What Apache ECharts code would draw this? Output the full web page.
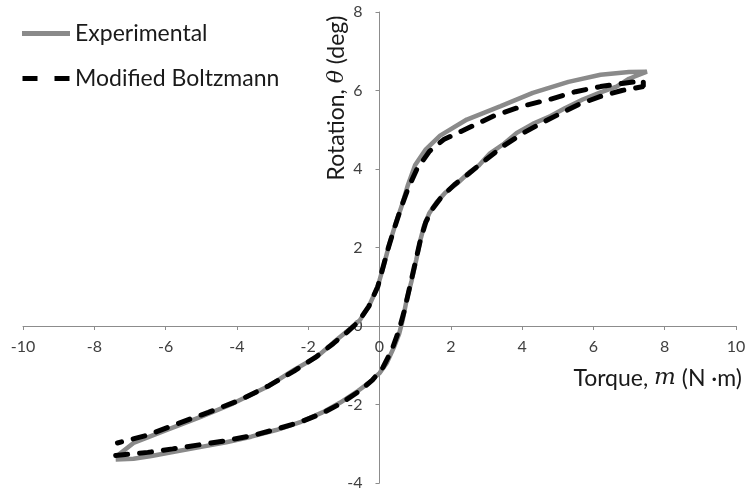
<!DOCTYPE html>
<html lang="en">
<head>
    <meta charset="UTF-8">
    <title>Rotation vs torque</title>
    <script type="text/javascript" src="https://cdn.jsdelivr.net/npm/echarts@6/dist/echarts.min.js"></script>
    <style>
        html, body { margin: 0; padding: 0; background: #fff; }
    </style>
</head>
<body>
    <div id="chart" style="width:748px;height:492px;"></div>
</body>
<script type="text/javascript">
    var chart = echarts.init(document.getElementById('chart'));

    var seriesNames = ['Experimental', 'Modified Boltzmann'];
    var xTicks = [-10, 10, 2];
    var yTicks = [-4, 8, 2];

    // measured loop: loading branch, then unloading branch
    var experimental = [
        [-7.4, -3.4], [-6.9, -3.38], [-6.4, -3.31], [-5.8, -3.21], [-5.0, -3.08], [-4.3, -2.96],
        [-3.6, -2.82], [-2.9, -2.65], [-2.2, -2.44], [-1.6, -2.2], [-1.1, -1.95], [-0.6, -1.65],
        [-0.3, -1.45], [0.0, -1.2], [0.2, -0.95], [0.4, -0.55], [0.55, -0.2], [0.65, 0.15],
        [0.76, 0.66], [0.9, 1.15], [1.03, 1.68], [1.15, 2.2], [1.25, 2.55], [1.4, 2.88],
        [1.6, 3.15], [1.85, 3.4], [2.2, 3.65], [2.5, 3.9], [2.8, 4.1], [3.1, 4.4], [3.5, 4.65],
        [3.85, 4.92], [4.3, 5.15], [4.8, 5.35], [5.2, 5.55], [5.7, 5.77], [6.2, 5.95], [6.65, 6.1],
        [7.0, 6.3], [7.5, 6.48],
        [7.5, 6.52], [7.0, 6.47], [6.2, 6.4], [5.3, 6.22], [4.3, 5.94], [3.4, 5.6], [2.45, 5.26],
        [1.7, 4.85], [1.3, 4.5], [1.0, 4.1], [0.8, 3.6], [0.62, 3.05], [0.45, 2.6], [0.28, 2.1],
        [0.12, 1.55], [-0.05, 1.0], [-0.3, 0.5], [-0.55, 0.15], [-0.8, -0.05], [-1.2, -0.35],
        [-1.75, -0.78], [-2.4, -1.12], [-3.15, -1.55], [-4.1, -1.97], [-5.05, -2.33], [-6.0, -2.66],
        [-6.9, -2.98], [-7.35, -3.3]
    ];

    // model fit: loading branch, then unloading branch
    var boltzmann = [
        [-7.4, -3.3], [-6.5, -3.22], [-5.8, -3.13], [-5.0, -3.02], [-4.3, -2.92], [-3.6, -2.8],
        [-2.9, -2.63], [-2.2, -2.44], [-1.6, -2.22], [-1.1, -1.98], [-0.6, -1.68], [-0.2, -1.38],
        [0.1, -1.05], [0.35, -0.6], [0.55, -0.1], [0.7, 0.4], [0.85, 1.0], [1.0, 1.6], [1.15, 2.2],
        [1.3, 2.65], [1.5, 3.0], [1.75, 3.3], [2.1, 3.6], [2.5, 3.88], [3.0, 4.25], [3.5, 4.6],
        [4.0, 4.9], [4.5, 5.15], [5.0, 5.38], [5.6, 5.65], [6.2, 5.85], [6.8, 6.0], [7.4, 6.1],
        [7.4, 6.25], [6.8, 6.18], [6.2, 6.1], [5.5, 5.97], [4.8, 5.78], [4.0, 5.6], [3.2, 5.35],
        [2.5, 5.05], [1.8, 4.75], [1.4, 4.45], [1.05, 4.0], [0.8, 3.5], [0.6, 3.0], [0.42, 2.5],
        [0.25, 2.0], [0.1, 1.5], [-0.05, 1.0], [-0.3, 0.5], [-0.6, 0.1], [-0.9, -0.15], [-1.3, -0.45],
        [-1.8, -0.8], [-2.4, -1.15], [-3.1, -1.52], [-3.9, -1.88], [-4.8, -2.2], [-5.7, -2.5],
        [-6.5, -2.78], [-7.35, -2.98]
    ];

    var labelStyle = { color: '#404040', fontSize: 16, fontFamily: 'Lato' };
    var lineColor = '#8c8c8c';

    var option = {
        animation: false,
        textStyle: { fontFamily: 'Lato' },
        grid: { left: 23, right: 12, top: 12, bottom: 9, containLabel: false, outerBoundsMode: 'none' },
        legend: {
            orient: 'vertical',
            left: 22,
            top: 22,
            padding: 0,
            itemWidth: 48,
            itemHeight: 5,
            itemGap: 22,
            textStyle: { color: '#1a1a1a', fontSize: 23, fontFamily: 'Lato' },
            data: [
                { name: seriesNames[0], icon: 'path://M0,0h48v5h-48z' },
                { name: seriesNames[1], icon: 'path://M1,0h15v5h-15z M33,0h15v5h-15z' }
            ]
        },
        xAxis: {
            type: 'value',
            min: xTicks[0],
            max: xTicks[1],
            interval: xTicks[2],
            offset: -157,
            axisLine: { onZero: false, lineStyle: { color: lineColor, width: 1 } },
            axisTick: { show: true, length: 4, lineStyle: { color: lineColor } },
            axisLabel: Object.assign({ margin: 13 }, labelStyle),
            splitLine: { show: false }
        },
        yAxis: {
            type: 'value',
            min: yTicks[0],
            max: yTicks[1],
            interval: yTicks[2],
            offset: -356.5,
            axisLine: { onZero: false, lineStyle: { color: lineColor, width: 1 } },
            axisTick: { show: true, length: 4, lineStyle: { color: lineColor } },
            axisLabel: Object.assign({ margin: 17 }, labelStyle),
            splitLine: { show: false }
        },
        graphic: [
            {
                type: 'text',
                right: 6,
                top: 367,
                style: {
                    text: 'Torque, {i|m} (N ·m)',
                    fill: '#1a1a1a',
                    font: '23px Lato',
                    rich: { i: { fontFamily: 'DejaVu Serif', fontStyle: 'italic', fontSize: 23, fill: '#1a1a1a' } }
                }
            },
            {
                type: 'text',
                x: 337,
                y: 98,
                rotation: Math.PI / 2,
                style: {
                    text: 'Rotation, {i|θ} (deg)',
                    fill: '#1a1a1a',
                    font: '23px Lato',
                    align: 'center',
                    verticalAlign: 'middle',
                    rich: { i: { fontFamily: 'DejaVu Serif', fontStyle: 'italic', fontSize: 22, fill: '#1a1a1a' } }
                }
            }
        ],
        series: [
            {
                name: seriesNames[0],
                type: 'line',
                data: experimental,
                showSymbol: false,
                symbol: 'none',
                lineStyle: { color: '#8a8a8a', width: 4.5 },
                itemStyle: { color: '#8a8a8a' }
            },
            {
                name: seriesNames[1],
                type: 'line',
                data: boltzmann,
                showSymbol: false,
                symbol: 'none',
                lineStyle: { color: '#000', width: 5, type: [12, 12], cap: 'round' },
                itemStyle: { color: '#000' }
            }
        ]
    };

    chart.setOption(option);
</script>
</html>
